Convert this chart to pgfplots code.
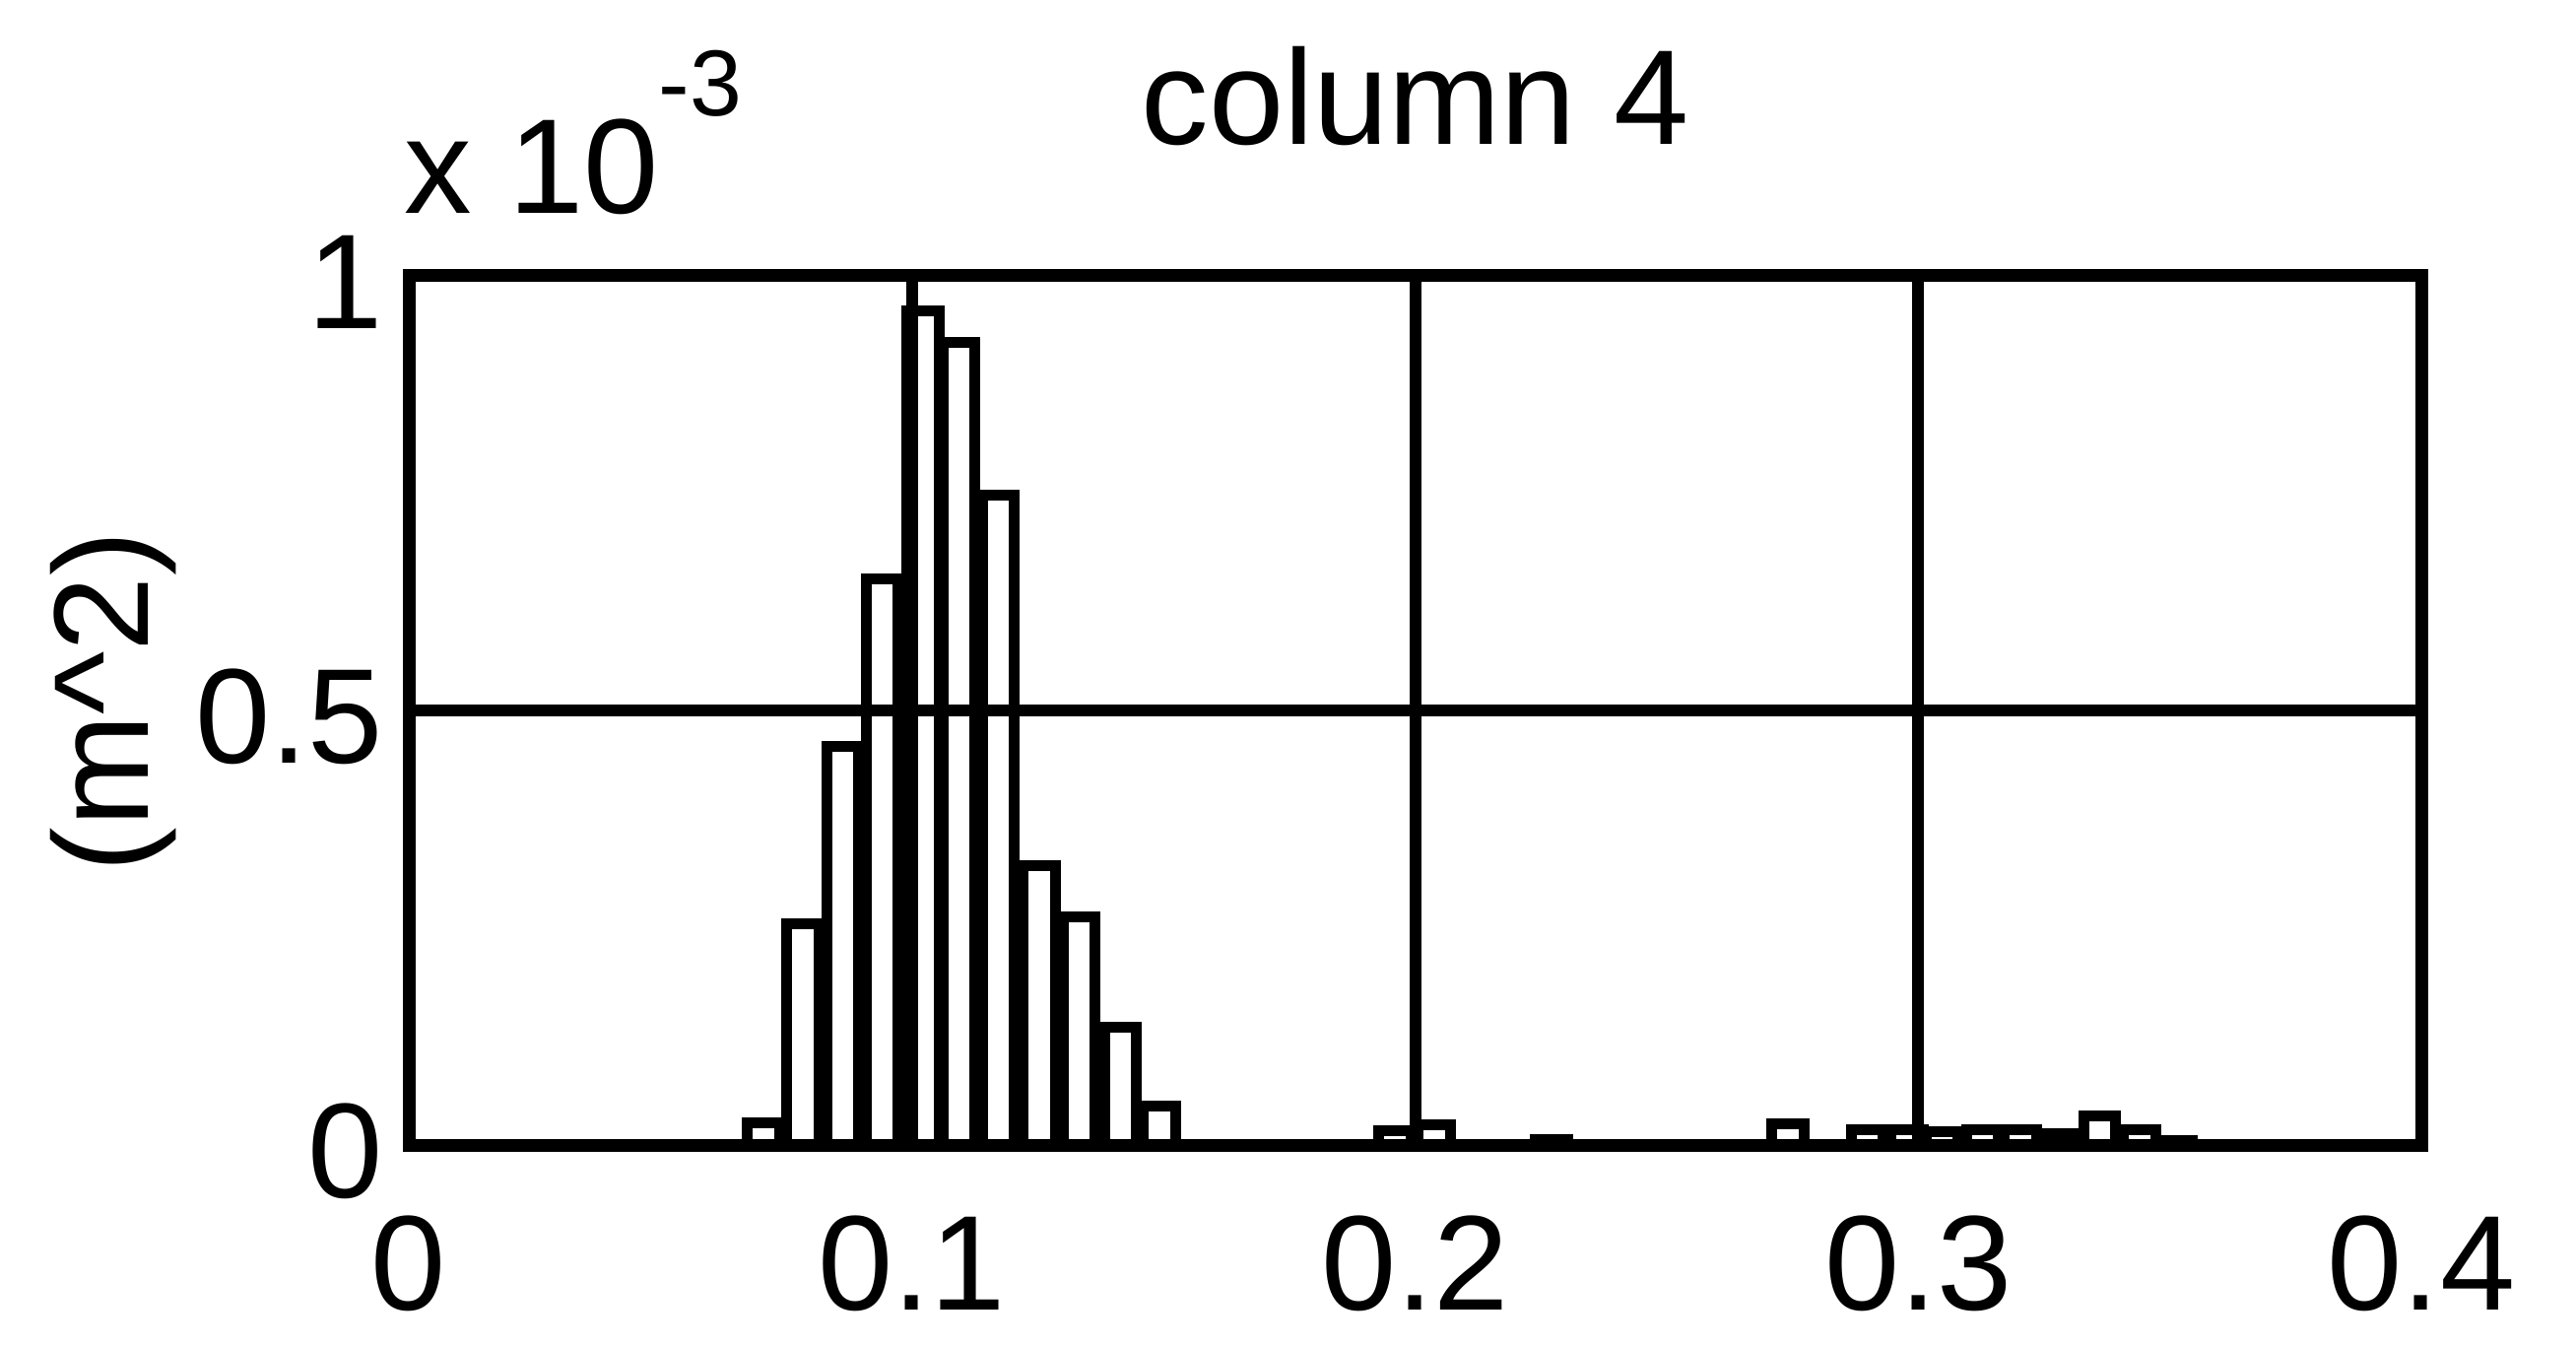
\documentclass[border=0pt]{standalone}
\usepackage{fontspec}
\setmainfont{Liberation Sans}
\usepackage{pgfplots}
\pgfplotsset{compat=1.18}
\begin{document}
\begin{tikzpicture}
\useasboundingbox (-41.5pt,-20.3pt) rectangle (220pt,116.2pt);
\begin{axis}[
  at={(0,0)}, anchor=south west,
  scale only axis, width=204.3pt, height=88.2pt,
  xmin=0, xmax=0.4, ymin=0, ymax=1,
  xtick={0,0.1,0.2,0.3,0.4}, ytick={0,0.5,1},
  xticklabels={0,0.1,0.2,0.3,0.4}, yticklabels={0,0.5,1},
  grid=major, major grid style={black, line width=1.2pt},
  axis line style={black, line width=1.3pt},
  major tick length=0pt,
  axis on top,
  font=\fontsize{13.7}{16}\selectfont,
  /pgf/number format/assume math mode=true,
  xticklabel style={anchor=north, inner sep=0pt, yshift=-7pt},
  yticklabel style={anchor=east, inner sep=0pt, xshift=-2.4pt, yshift=-0.6pt},
  every axis title shift=0pt,
  title={column 4},
  title style={at={(axis description cs:0.5,1)}, anchor=base, yshift=13.3pt, inner sep=0pt},
  ylabel={(m\textasciicircum 2)},
  ylabel style={at={(axis description cs:-0.147,0.51)}, anchor=center, inner sep=0pt},
]
\addplot[ybar, bar width=0.0063, fill=white, draw=black, line width=1.1pt] coordinates {
(0.0705,0.025) (0.0783,0.254) (0.0863,0.459) (0.0940,0.651) (0.1022,0.960)
(0.1093,0.924) (0.1171,0.748) (0.1253,0.322) (0.1333,0.263) (0.1414,0.136)
(0.1492,0.045)
(0.1960,0.016) (0.2038,0.023) (0.2271,0.006)
(0.2741,0.024) (0.2898,0.018) (0.2978,0.018) (0.3048,0.015) (0.3127,0.018)
(0.3203,0.018) (0.3276,0.013) (0.3360,0.033) (0.3440,0.018) (0.3514,0.005)
};
\end{axis}
\node[anchor=base west, inner sep=0pt, font=\fontsize{13.7}{16}\selectfont] at (-0.7pt,94.5pt) {x 10\raisebox{9.9pt}{\fontsize{9.5}{11}\selectfont -3}};
\end{tikzpicture}
\end{document}
